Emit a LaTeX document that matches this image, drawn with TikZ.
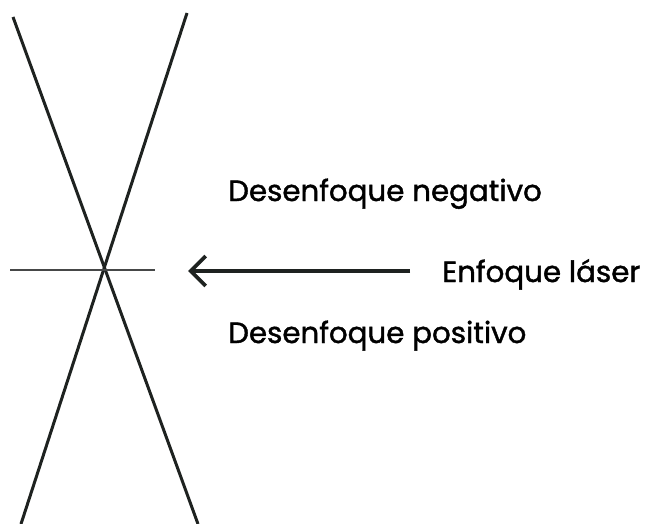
\documentclass[tikz,border=0pt]{standalone}
\usepackage{fontspec}
\setmainfont{Poppins}[FakeBold=1.4]
\usetikzlibrary{arrows.meta}
\definecolor{Ink}{RGB}{30,34,32}
\definecolor{Rule}{RGB}{70,72,72}
\tikzset{
  beam/.style={draw=Ink,line width=3pt},
  focusline/.style={draw=Rule,line width=1.4pt},
  pointer/.style={draw=Ink,line width=3.8pt,-{Straight Barb[length=15pt,width=30pt]}},
  caption/.style={anchor=base west,inner sep=0pt,font=\fontsize{29.3}{36}\selectfont,text=black}
}
\begin{document}
\begin{tikzpicture}[x=1pt,y=-1pt]
\useasboundingbox (0,0) rectangle (650,524);
% beam edges crossing at the focus
\coordinate (topleft) at (13,17);
\coordinate (botright) at (198,524);
\coordinate (topright) at (187,13);
\coordinate (botleft) at (21,524);
\coordinate (focusL) at (10,270);
\coordinate (focusR) at (155,270);
\draw[beam] (topleft)--(botright);
\draw[beam] (topright)--(botleft);
\draw[focusline] (focusL)--(focusR);
% labels
\node[caption] (neg) at (228,201) {Desenfoque negativo};
\node[caption] (laser) at (442,282) {Enfoque láser};
\node[caption] (pos) at (228,343) {Desenfoque positivo};
\coordinate (tail) at (410,271);
\coordinate (tip) at (188,271);
\draw[pointer] (tail)--(tip);
\end{tikzpicture}
\end{document}
